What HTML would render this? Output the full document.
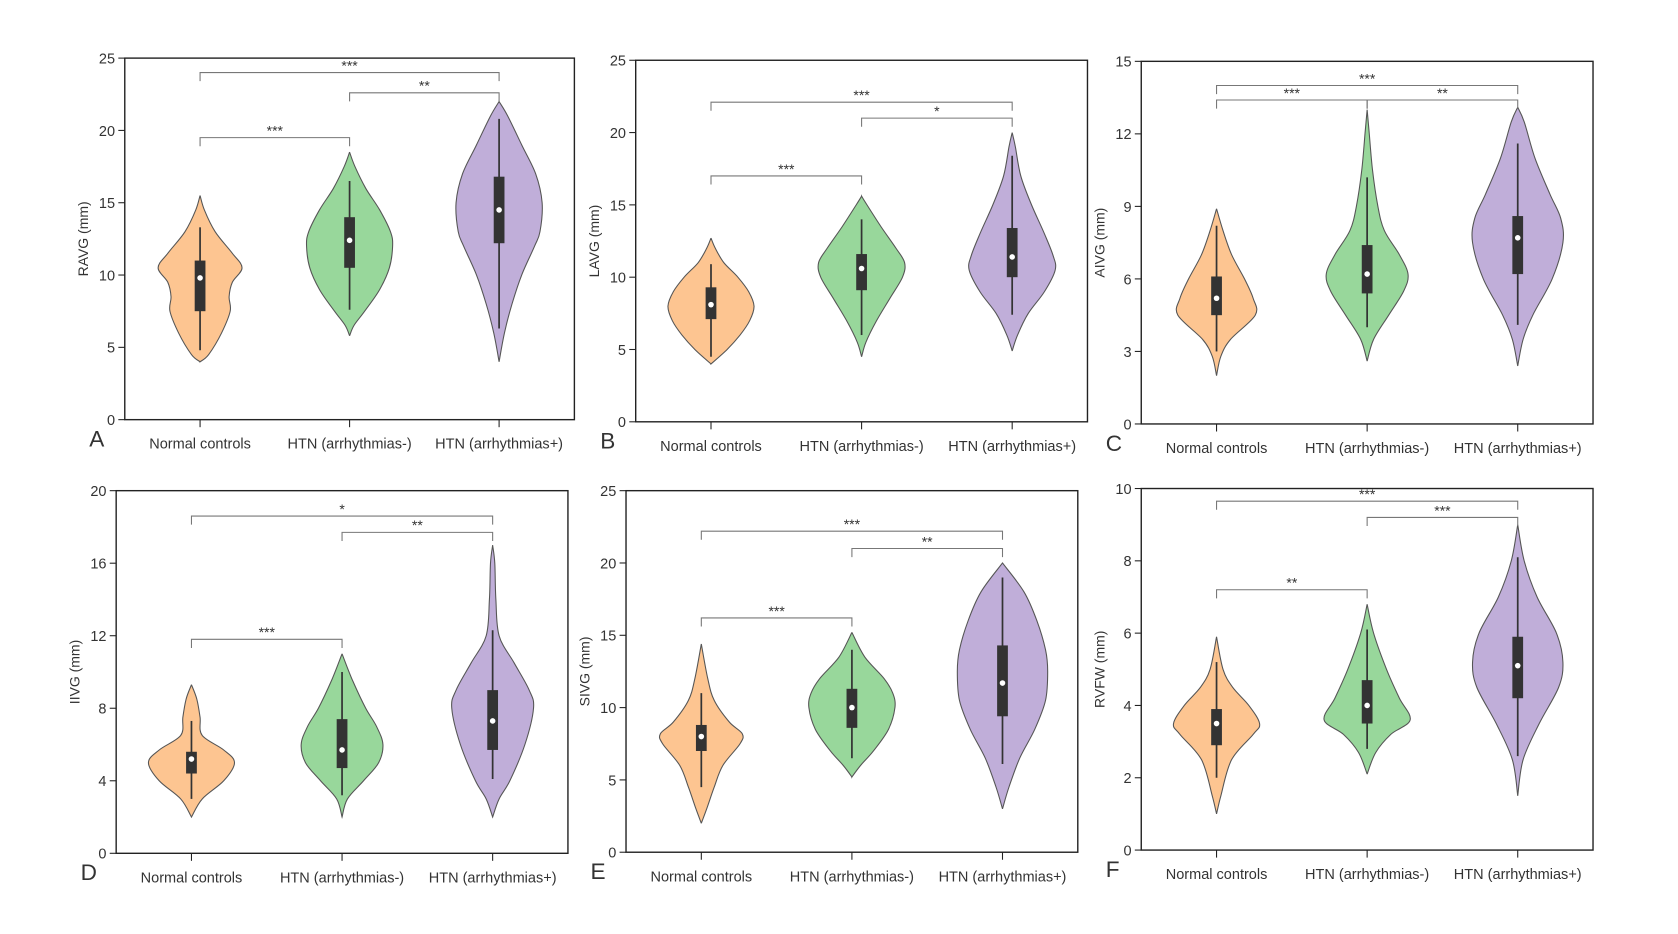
<!DOCTYPE html>
<html><head><meta charset="utf-8"><style>
html,body{margin:0;padding:0;background:#fff;}
svg{display:block;font-family:"Liberation Sans",Arial,sans-serif;}
</style></head><body>
<svg id="fig" width="1678" height="934" viewBox="0 0 1560 868" preserveAspectRatio="none" xmlns="http://www.w3.org/2000/svg"></svg>
<script>
const categories = ["Normal controls","HTN (arrhythmias-)","HTN (arrhythmias+)"];
const panelLetters = ["A","B","C","D","E","F"];
const yTitles = ["RAVG (mm)","LAVG (mm)","AIVG (mm)","IIVG (mm)","SIVG (mm)","RVFW (mm)"];
const yMaxes = [25,25,15,20,25,10];
const yTickSteps = [5,5,3,4,5,2];
// violin density profiles: [value, half-width]
const profA = [
 [[4,0],[4.5,8],[6,20],[7.5,28],[8.5,27],[9.5,30],[10.5,39],[11.5,30],[13,14],[14.5,4],[15.5,0]],
 [[5.8,0],[6.5,4],[7.5,14],[9,28],[10.5,37],[12,40],[13,38],[14.5,28],[16,15],[17.5,5],[18.5,0]],
 [[4,0],[6,5],[8,12],[10,21],[12,33],[13,38],[15,40],[17,34],[19,21],[21,8],[22,0]]];
const profB = [
 [[4,0],[5,15],[6,27],[7,36],[8,40],[9,35],[10,25],[11,12],[12,4],[12.7,0]],
 [[4.5,0],[5.5,4],[7,14],[8.5,26],[10,38],[11,40],[12,32],[13.5,18],[15,5],[15.6,0]],
 [[4.9,0],[6,5],[7.5,15],[9,30],[10.5,40],[11.5,38],[13,30],[15,18],[17,8],[19,3],[20,0]]];
const profC = [
 [[2,0],[2.8,4],[3.5,13],[4.5,36],[5.2,34],[6,26],[7,14],[8,6],[8.9,0]],
 [[2.6,0],[3.5,6],[4.5,20],[5.5,34],[6.2,38],[7,30],[8,16],[9,10],[10.5,5],[12,2],[13,0]],
 [[2.4,0],[3.5,5],[4.5,14],[6,32],[7.5,42],[8.5,40],[9.5,30],[11,16],[12.5,6],[13.1,0]]];
const profD = [
 [[2,0],[3,10],[4,30],[5,40],[5.7,30],[6.5,10],[7.5,8],[8.5,5],[9.3,0]],
 [[2,0],[3,5],[4,20],[5,34],[6,38],[7,32],[8,22],[9.5,10],[11,0]],
 [[2,0],[3,6],[4,16],[6,30],[8,38],[9,34],[10.5,20],[12,6],[14,3],[16,2],[17,0]]];
const profE = [
 [[2,0],[3,5],[4.5,12],[6,20],[7.5,36],[8.2,38],[9,26],[10.5,12],[12,6],[14.4,0]],
 [[5.2,0],[6,8],[7,20],[8.5,34],[10,40],[11,38],[12,30],[13.5,12],[15.2,0]],
 [[3,0],[4.5,6],[6.5,16],[8.5,30],[10.5,40],[12.5,42],[14,40],[16,32],[18,20],[20,0]]];
const profF = [
 [[1,0],[1.5,4],[2.5,14],[3.2,34],[3.5,40],[4,30],[4.5,15],[5,6],[5.9,0]],
 [[2.1,0],[2.7,8],[3.2,22],[3.6,40],[4.2,30],[5,18],[6,6],[6.8,0]],
 [[1.5,0],[2.5,5],[3.5,20],[4.5,38],[5.2,42],[6,36],[7,18],[8,6],[9,0]]];
// box stats: [whiskerLow, q1, median, q3, whiskerHigh]
const boxA = [[4.8,7.5,9.8,11,13.3],[7.6,10.5,12.4,14,16.5],[6.3,12.2,14.5,16.8,20.8]];
const boxB = [[4.5,7.1,8.1,9.3,10.9],[6,9.1,10.6,11.6,14],[7.4,10,11.4,13.4,18.4]];
const boxC = [[3,4.5,5.2,6.1,8.2],[4,5.4,6.2,7.4,10.2],[4.1,6.2,7.7,8.6,11.6]];
const boxD = [[3,4.4,5.2,5.6,7.3],[3.2,4.7,5.7,7.4,10],[4.1,5.7,7.3,9,12.3]];
const boxE = [[4.5,7,8,8.8,11],[6.5,8.6,10,11.3,14],[6.1,9.4,11.7,14.3,19]];
const boxF = [[2,2.9,3.5,3.9,5.2],[2.8,3.5,4,4.7,6.1],[2.6,4.2,5.1,5.9,8.1]];
// brackets: [fromIdx, toIdx, level, label]
const brA = [[0,2,24,"***"],[1,2,22.6,"**"],[0,1,19.5,"***"]];
const brB = [[0,2,22.1,"***"],[1,2,21.0,"*"],[0,1,17.0,"***"]];
const brC = [[0,2,14.0,"***"],[0,1,13.4,"***"],[1,2,13.4,"**"]];
const brD = [[0,2,18.6,"*"],[1,2,17.7,"**"],[0,1,11.8,"***"]];
const brE = [[0,2,22.2,"***"],[1,2,21.0,"**"],[0,1,16.2,"***"]];
const brF = [[0,2,9.65,"***"],[1,2,9.2,"***"],[0,1,7.2,"**"]];

const profiles=[profA,profB,profC,profD,profE,profF];
const boxes=[boxA,boxB,boxC,boxD,boxE,boxF];
const brackets=[brA,brB,brC,brD,brE,brF];
const frames=[[116,54,534,390],[591,56,1011,392],[1061,57,1481,394],[108,456,528,793],[582,456,1002,792],[1061,454,1481,790]];
const fills=["#fdc591","#98d79b","#c0aed9"];
const NS="http://www.w3.org/2000/svg";
const svg=document.getElementById('fig');
function mk(tag,attrs,parent){const e=document.createElementNS(NS,tag);for(const k in attrs)e.setAttribute(k,attrs[k]);(parent||svg).appendChild(e);return e;}
function smooth(pts){let d="M"+pts[0][0]+","+pts[0][1];for(let i=0;i<pts.length-1;i++){const p0=pts[i-1]||pts[i],p1=pts[i],p2=pts[i+1],p3=pts[i+2]||p2;
 const c1=[p1[0]+(p2[0]-p0[0])/6,p1[1]+(p2[1]-p0[1])/6],c2=[p2[0]-(p3[0]-p1[0])/6,p2[1]-(p3[1]-p1[1])/6];
 d+=" C"+c1[0].toFixed(1)+","+c1[1].toFixed(1)+" "+c2[0].toFixed(1)+","+c2[1].toFixed(1)+" "+p2[0].toFixed(1)+","+p2[1].toFixed(1);}return d;}
frames.forEach((f,pi)=>{
 const [x0,y0,x1,y1]=f;const ymax=yMaxes[pi];
 const g=mk('g',{});
 
 
 const Y=v=>y1-(v/ymax)*(y1-y0);
 const sp=(x1-x0-140)/2;const X=i=>x0+70+i*sp;
 profiles[pi].forEach((prof,ci)=>{
  const cx=X(ci);
  const right=prof.map(p=>[cx+p[1],Y(p[0])]);
  const left=prof.slice().reverse().map(p=>[cx-p[1],Y(p[0])]);
  const d=smooth(right)+" "+smooth(left).replace(/^M/,"L")+"Z";
  const v=mk('path',{d:d,fill:fills[ci],stroke:"#555","stroke-width":1},g);
  
  
  const b=boxes[pi][ci];
  const w=mk('line',{x1:cx,x2:cx,y1:Y(b[0]),y2:Y(b[4]),stroke:"#333","stroke-width":1.6},g);
  
  
  const r=mk('rect',{x:cx-5,y:Y(b[3]),width:10,height:Y(b[1])-Y(b[3]),fill:"#333"},g);
  
  
  const m=mk('circle',{cx:cx,cy:Y(b[2]),r:2.6,fill:"#fff"},g);
  
  
 });
 brackets[pi].forEach(br=>{
  const xa=X(br[0]),xb=X(br[1]),yy=Y(br[2]);
  const p=mk('path',{d:`M${xa},${yy+8} V${yy} H${xb} V${yy+8}`,fill:"none",stroke:"#777","stroke-width":1},g);
  
  
  const t=mk('text',{x:(xa+xb)/2,y:yy-2,"text-anchor":"middle","font-size":13,fill:"#333"},g);
  t.textContent=br[3];
  
  
 });
 const fr=mk('rect',{x:x0,y:y0,width:x1-x0,height:y1-y0,fill:"none",stroke:"#222","stroke-width":1.3},g);
 
 
 for(let v=0;v<=ymax+1e-9;v+=yTickSteps[pi]){
  mk('line',{x1:x0-6,x2:x0,y1:Y(v),y2:Y(v),stroke:"#222","stroke-width":1},g);
  const t=mk('text',{x:x0-9,y:Y(v)+5,"text-anchor":"end","font-size":13.5,fill:"#333"},g);
  t.textContent=v;
  
  
 }
 categories.forEach((c,ci)=>{
  mk('line',{x1:X(ci),x2:X(ci),y1:y1,y2:y1+7,stroke:"#222","stroke-width":1},g);
  const t=mk('text',{x:X(ci),y:y1+27,"text-anchor":"middle","font-size":13.5,fill:"#333"},g);
  t.textContent=c;
  
  
 });
 const yt=mk('text',{x:0,y:0,transform:`translate(${x0-34},${(y0+y1)/2}) rotate(-90)`,"text-anchor":"middle","font-size":13,fill:"#333"},g);
 yt.textContent=yTitles[pi];
 
 
 const pl=mk('text',{x:x0-33,y:y1+25,"font-size":21,fill:"#333"},g);
 pl.textContent=panelLetters[pi];
 
 
});
</script>
</body></html>
